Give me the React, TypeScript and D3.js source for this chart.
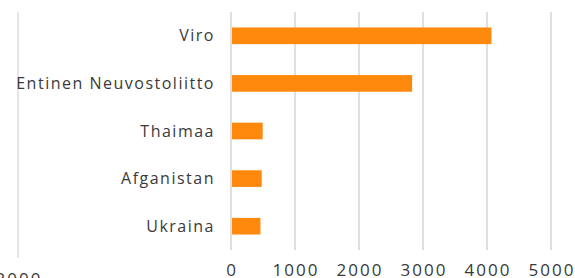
import React from "react";
import * as d3 from "d3";

const width = 575;
const height = 278;
const margin = { top: 12, right: 24, bottom: 28, left: 231 };

// data
const countries = ["Viro", "Entinen Neuvostoliitto", "Thaimaa", "Afganistan", "Ukraina"];
const values = [4070, 2830, 495, 480, 460];
const ticks = [0, 1000, 2000, 3000, 4000, 5000];

const font = "'Open Sans', 'DejaVu Sans', sans-serif";

export default function App() {
  const x = d3.scaleLinear().domain([0, 5000]).range([margin.left, 551]);
  const y = d3
    .scaleBand()
    .domain(countries)
    .range([margin.top, height - margin.bottom])
    .paddingInner(0.65)
    .paddingOuter(0.325);

  return (
    <svg
      width={width}
      height={height}
      style={{ position: "absolute", left: 0, top: 0, display: "block", background: "#fff" }}
    >
      {/* leftover gridline + label from the neighbouring panel */}
      <line x1={18} x2={18} y1={12} y2={258} stroke="#e6e6e6" strokeWidth={2} />
      <text x={19} y={285} textAnchor="middle" fontFamily={font} fontSize={17} fill="#3a3a3a" letterSpacing={2}>
        2000
      </text>

      {/* gridlines */}
      {ticks.map((t) => (
        <line key={t} x1={x(t)} x2={x(t)} y1={12} y2={250} stroke="#d9d9d9" strokeWidth={1.7} />
      ))}

      {/* bars */}
      {countries.map((c, i) => (
        <rect
          key={c}
          x={x(0) + 1}
          y={y(c)}
          width={x(values[i]) - x(0) - 1}
          height={y.bandwidth()}
          fill="#ff890c"
        />
      ))}

      {/* category labels */}
      {countries.map((c) => (
        <text
          key={c}
          x={215}
          y={(y(c) as number) + y.bandwidth() / 2}
          dy="0.35em"
          textAnchor="end"
          fontFamily={font}
          fontSize={16}
          letterSpacing={1.5}
          fill="#3a3a3a"
        >
          {c}
        </text>
      ))}

      {/* x tick labels */}
      {ticks.map((t) => (
        <text
          key={t}
          x={x(t) + 1}
          y={276}
          textAnchor="middle"
          fontFamily={font}
          fontSize={17}
          letterSpacing={2}
          fill="#3a3a3a"
        >
          {t}
        </text>
      ))}
    </svg>
  );
}
